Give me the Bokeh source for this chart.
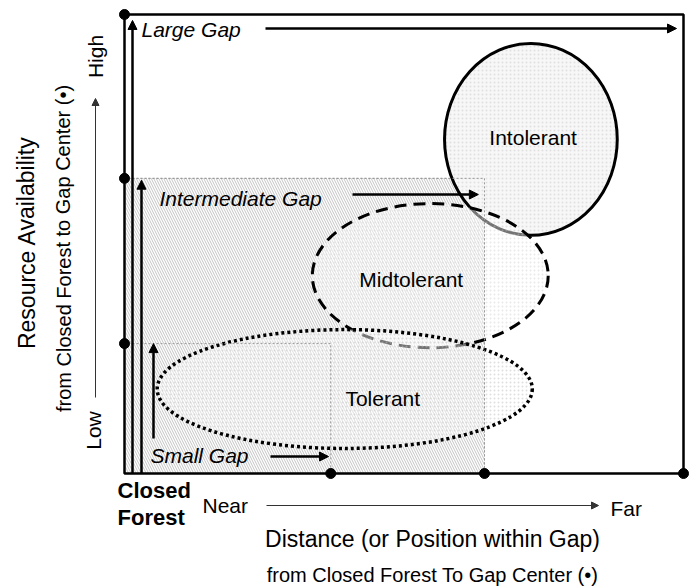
from bokeh.plotting import figure
from bokeh.models import Range1d, Arrow, NormalHead
from bokeh.core.properties import value
from bokeh.embed import file_html
from bokeh.resources import INLINE

# ---- data (diagram units: 0..1 distance, 0..1 resource availability) ----
gap_names = ["Small Gap", "Intermediate Gap", "Large Gap"]
gap_distance = [0.369, 0.644, 1.0]
gap_resource = [0.283, 0.643, 1.0]

tol_names = ["Tolerant", "Midtolerant", "Intolerant"]
tol_distance = [0.394, 0.547, 0.727]
tol_resource = [0.184, 0.431, 0.728]
tol_distance_span = [0.671, 0.422, 0.309]
tol_resource_span = [0.259, 0.314, 0.418]

# ---- layout ----
W, H = 693, 586
X0, X1 = 124, 683      # canvas px of distance 0 and 1
YT, YB = 14, 473       # canvas px (from top) of resource 1 and 0
SX = X1 - X0
SY = YB - YT
FONT = "Liberation Sans"


def px(x):  # canvas pixel -> distance units
    return (x - X0) / SX


def py(y):  # canvas pixel -> resource units
    return (YB - y) / SY


p = figure(width=W, height=H, output_backend="svg", toolbar_location=None,
           x_range=Range1d(-X0 / SX, (W - X0) / SX),
           y_range=Range1d(-(H - YB) / SY, YB / SY),
           x_axis_location=None, y_axis_location=None, min_border=0,
           outline_line_color=None, background_fill_color="white")
p.grid.visible = False

# intermediate gap area (hatched)
p.quad(left=[0], right=[gap_distance[1]], bottom=[0], top=[gap_resource[1]],
       fill_color="white", hatch_pattern="left_diagonal_line", hatch_color="#c4c4c4",
       hatch_scale=5, hatch_weight=1, line_color="#9a9a9a", line_width=1, line_dash="2 2")

# Intolerant (solid)
p.ellipse(x=[tol_distance[2]], y=[tol_resource[2]], width=[tol_distance_span[2]],
          height=[tol_resource_span[2]], fill_color="#f7f7f7", fill_alpha=1.0,
          hatch_pattern="dot", hatch_color="#c8c8c8", hatch_scale=4, hatch_weight=1, hatch_alpha=0.5,
          line_color="black", line_width=3)
# Midtolerant (dashed)
p.ellipse(x=[tol_distance[1]], y=[tol_resource[1]], width=[tol_distance_span[1]],
          height=[tol_resource_span[1]], fill_color="white", fill_alpha=0.45,
          hatch_pattern="dot", hatch_color="#c8c8c8", hatch_scale=4, hatch_weight=1, hatch_alpha=0.4,
          line_color="black", line_width=3, line_dash="12 7")
# Tolerant (dotted)
p.ellipse(x=[tol_distance[0]], y=[tol_resource[0]], width=[tol_distance_span[0]],
          height=[tol_resource_span[0]], fill_color="white", fill_alpha=0.45,
          hatch_pattern="dot", hatch_color="#c0c0c0", hatch_scale=4, hatch_weight=1, hatch_alpha=0.5,
          line_color="black", line_width=3.5, line_dash="3 3")

# small gap area border
p.quad(left=[0], right=[gap_distance[0]], bottom=[0], top=[gap_resource[0]],
       fill_color=None, line_color="#9a9a9a", line_width=1, line_dash="2 2")
# intermediate border again on top
p.quad(left=[0], right=[gap_distance[1]], bottom=[0], top=[gap_resource[1]],
       fill_color=None, line_color="#9a9a9a", line_width=1, line_dash="2 2")
# large gap / outer box
p.quad(left=[0], right=[gap_distance[2]], bottom=[0], top=[gap_resource[2]],
       fill_color=None, line_color="black", line_width=2.5)

# gap-extent dots
p.scatter(x=[0, 0, 0], y=gap_resource, size=10, color="black")
p.scatter(x=gap_distance, y=[0, 0, 0], size=10, color="black")

# vertical gap arrows
v_x = [px(153), px(141), px(132)]
v_y0 = [py(438), 0, 0]
v_tip = [0.0, 0.004, 0.013]
for i in range(3):
    p.add_layout(Arrow(end=NormalHead(size=9, fill_color="black", line_color="black"),
                       x_start=v_x[i], y_start=v_y0[i], x_end=v_x[i],
                       y_end=gap_resource[i] - v_tip[i], line_width=2.5))

# horizontal gap arrows
h_y = [py(456), py(194), py(28)]
h_x0 = [px(270), px(352), px(265)]
h_tip = [0.004, 0.011, 0.0125]
for i in range(3):
    p.add_layout(Arrow(end=NormalHead(size=9, fill_color="black", line_color="black"),
                       x_start=h_x0[i], y_start=h_y[i], x_end=gap_distance[i] - h_tip[i],
                       y_end=h_y[i], line_width=2.5))

# gap labels
p.text(x=[px(150), px(159), px(141)], y=[py(455), py(198), py(29)], text=gap_names,
       text_font=value(FONT), text_font_size="21px", text_font_style="italic",
       text_align="left", text_baseline="middle", text_color="black")

# tolerance labels
lab_dx = [0.068, -0.034, 0.004]
lab_dy = [-0.021, -0.008, 0.004]
p.text(x=[tol_distance[i] + lab_dx[i] for i in range(3)],
       y=[tol_resource[i] + lab_dy[i] for i in range(3)], text=tol_names,
       text_font=value(FONT), text_font_size="21px",
       text_align="center", text_baseline="middle", text_color="black")

# ---- axis-like annotations ----
# y
p.text(x=[px(26)], y=[py(242)], text=["Resource Availability"], angle=1.5708,
       text_font=value(FONT), text_font_size="23px", text_align="center",
       text_baseline="middle", text_color="black")
p.text(x=[px(63)], y=[py(248)], text=["from Closed Forest to Gap Center (\u2022)"], angle=1.5708,
       text_font=value(FONT), text_font_size="20px", text_align="center",
       text_baseline="middle", text_color="black")
p.text(x=[px(95), px(93)], y=[py(56), py(430)], text=["High", "Low"], angle=1.5708,
       text_font=value(FONT), text_font_size="21px", text_align="center",
       text_baseline="middle", text_color="black")
p.add_layout(Arrow(end=NormalHead(size=7, fill_color="#333333", line_color="#333333"),
                   x_start=px(95), y_start=py(397), x_end=px(95), y_end=py(98),
                   line_width=1, line_color="#333333"))

# x
p.text(x=[px(117), px(117)], y=[py(490), py(517)], text=["Closed", "Forest"],
       text_font=value(FONT), text_font_size="22px", text_font_style="bold",
       text_align="left", text_baseline="middle", text_color="black")
p.text(x=[px(202), px(610)], y=[py(505), py(508)], text=["Near", "Far"],
       text_font=value(FONT), text_font_size="21px",
       text_align="left", text_baseline="middle", text_color="black")
p.add_layout(Arrow(end=NormalHead(size=7, fill_color="#333333", line_color="#333333"),
                   x_start=px(266), y_start=py(505), x_end=px(598), y_end=py(505),
                   line_width=1, line_color="#333333"))
p.text(x=[px(432)], y=[py(538)], text=["Distance (or Position within Gap)"],
       text_font=value(FONT), text_font_size="23px", text_align="center",
       text_baseline="middle", text_color="black")
p.text(x=[px(432)], y=[py(574)], text=["from Closed Forest To Gap Center (\u2022)"],
       text_font=value(FONT), text_font_size="20px", text_align="center",
       text_baseline="middle", text_color="black")

open("out.html", "w").write(file_html(p, INLINE))
